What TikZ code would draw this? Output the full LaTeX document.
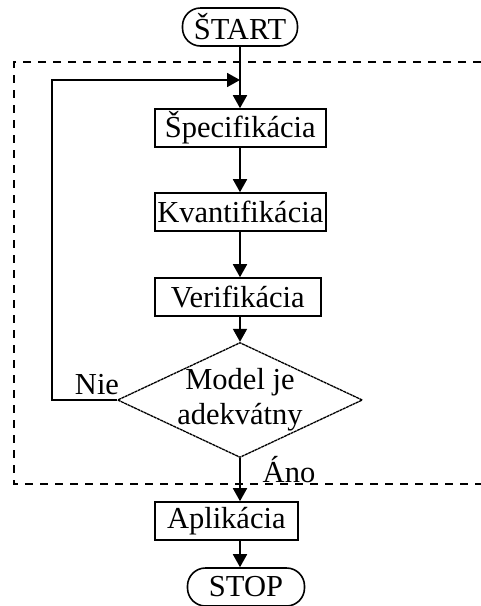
\documentclass[tikz,border=0pt]{standalone}
\usepackage{fontspec}
\setmainfont{Liberation Serif}
\usetikzlibrary{arrows.meta,shapes.geometric}

\tikzset{
  process/.style={draw, line width=1.6pt, anchor=west, minimum height=38pt, inner sep=0pt},
  terminal/.style={draw, line width=1.6pt, rounded corners=18pt, minimum height=38pt, inner sep=0pt},
  decision/.style={draw, diamond, line width=1.3pt, dash pattern=on 3pt off 0.6pt, minimum width=245pt, minimum height=115pt, inner sep=0pt},
  flow/.style={line width=1.8pt, -{Triangle[length=13pt,width=14pt]}},
  frame/.style={line width=1.6pt, dash pattern=on 8pt off 7pt}
}

\begin{document}
\begin{tikzpicture}[x=1pt, y=-1pt, font=\fontsize{30.5}{35}\selectfont]

\useasboundingbox (0,0) rectangle (481,606);

% outer dashed frame (open on the right)
\draw[frame] (481,62) -- (14,62) -- (14,484) -- (481,484);

\node[terminal, minimum width=115pt] (start) at (240,27) {ŠTART};

\node[process, minimum width=171pt] (spec) at (154,128) {Špecifikácia};
\node[process, minimum width=171pt] (kvant) at (154,212) {Kvantifikácia};
\node[process, minimum width=166pt] (verif) at (154,297) {Verifikácia};

\node[decision] (dec) at (240,400) {};
\node[align=center, font=\fontsize{30.5}{35}\selectfont] (dectext) at (240,400) {Model je\\adekvátny};

\node[process, minimum width=143pt] (apl) at (154,521) {Aplikácia};
\node[terminal, minimum width=117pt] (stop) at (246,587) {STOP};

\node (nie) at (97,385) {Nie};
\node (ano) at (289,470) {Áno};

\coordinate (back) at (52,80);
\coordinate (join) at (240,80);

% main flow
\draw[flow] (start.south) -- (start.south |- spec.north);
\draw[flow] (spec.south -| start) -- (start |- kvant.north);
\draw[flow] (kvant.south -| start) -- (start |- verif.north);
\draw[flow] (verif.south -| start) -- (dec.north);
\draw[flow] (dec.south) -- (dec.south |- apl.north);
\draw[flow] (apl.south -| dec) -- (dec |- stop.north);

% loop back
\draw[flow] (dec.west) -| (back) -- (join);

\end{tikzpicture}
\end{document}
